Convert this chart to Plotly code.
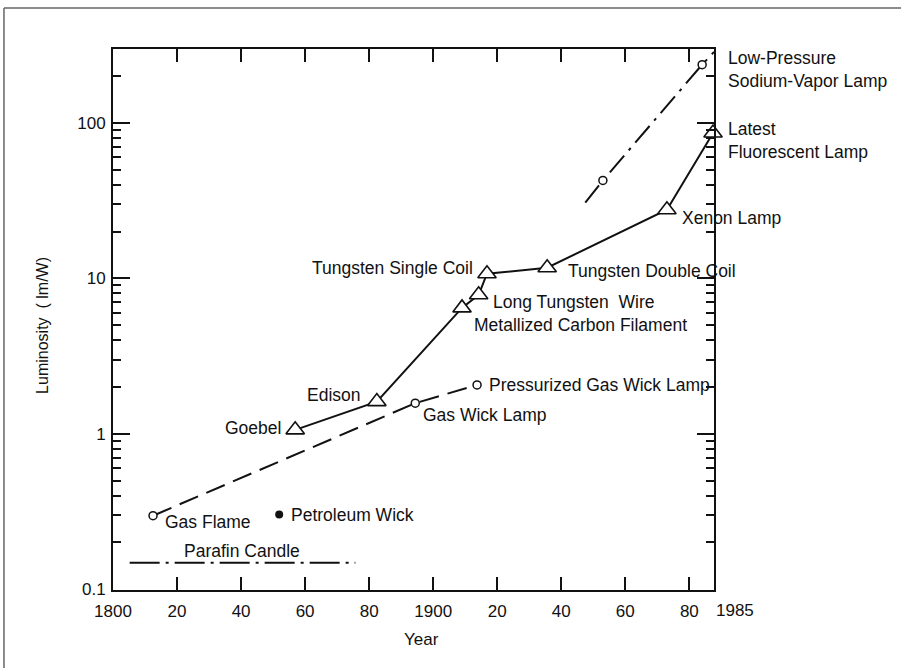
import plotly.graph_objects as go

# ---- data ----
# solid line: incandescent / discharge lamps (open triangles)
lamp_names = ["Goebel", "Edison", "Metallized Carbon Filament", "Long Tungsten Wire",
              "Tungsten Single Coil", "Tungsten Double Coil", "Xenon Lamp", "Latest Fluorescent Lamp"]
lamp_years = [1856.9, 1882.4, 1909.0, 1914.2, 1916.8, 1935.6, 1973.0, 1987.4]
lamp_lum = [1.06, 1.61, 6.45, 7.83, 10.7, 11.7, 27.6, 86.0]

# dashed line: gas lighting (open circles)
gas_names = ["Gas Flame", "Gas Wick Lamp", "Pressurized Gas Wick Lamp"]
gas_years = [1812.5, 1894.4, 1913.7]
gas_lum = [0.297, 1.573, 2.062]

# dash-dot line: low-pressure sodium-vapor lamp
sodium_line_years = [1947.5, 1953.0, 1984.0, 1987.7]
sodium_line_lum = [30.7, 42.6, 236.8, 286.0]
sodium_pt_years = [1953.0, 1984.0]
sodium_pt_lum = [42.6, 236.8]

# single point: petroleum wick
petro_years = [1851.9]
petro_lum = [0.303]

# horizontal dash-dot: parafin candle
candle_years = [1805.2, 1875.7]
candle_lum = [0.148, 0.148]

# axis ticks
x_tickvals = [1800, 1820, 1840, 1860, 1880, 1900, 1920, 1940, 1960, 1980]
x_ticktext = ["1800", "20", "40", "60", "80", "1900", "20", "40", "60", "80"]
y_tickvals = [0.1, 1, 10, 100]
y_ticktext = ["0.1", "1", "10", "100"]
y_minor = [0.2, 0.3, 0.4, 0.5, 0.6, 0.7, 0.8, 0.9,
           2, 3, 4, 5, 6, 7, 8, 9,
           20, 30, 40, 50, 60, 70, 80, 90,
           200, 300]

INK = "#111111"
FONT = "Liberation Sans, Arial, Helvetica, sans-serif"
LBL = 17.5

fig = go.Figure()

fig.add_trace(go.Scatter(
    x=candle_years, y=candle_lum, mode="lines",
    line=dict(color=INK, width=2, dash="30px,6px,3px,6px"), showlegend=False))

fig.add_trace(go.Scatter(
    x=gas_years, y=gas_lum, mode="lines+markers",
    line=dict(color=INK, width=2, dash="20px,9px"),
    marker=dict(symbol="circle", size=8, color="white", line=dict(color=INK, width=1.5)),
    cliponaxis=False, showlegend=False))

fig.add_trace(go.Scatter(
    x=sodium_line_years, y=sodium_line_lum, mode="lines",
    line=dict(color=INK, width=2, dash="22px,7px,3px,7px"), showlegend=False))
fig.add_trace(go.Scatter(
    x=sodium_pt_years, y=sodium_pt_lum, mode="markers",
    marker=dict(symbol="circle", size=8, color="white", line=dict(color=INK, width=1.5)),
    cliponaxis=False, showlegend=False))

fig.add_trace(go.Scatter(
    x=lamp_years, y=lamp_lum, mode="lines+markers",
    line=dict(color=INK, width=2),
    marker=dict(symbol="triangle-up", size=16, color="white", line=dict(color=INK, width=1.6)),
    cliponaxis=False, showlegend=False))

fig.add_trace(go.Scatter(
    x=petro_years, y=petro_lum, mode="markers",
    marker=dict(symbol="circle", size=8, color=INK),
    cliponaxis=False, showlegend=False))

# ---- text labels inside the plot (year, log10 lum, text, anchor) ----
labels = [
    (1977.4, 1.3893, "Xenon Lamp", "left"),
    (1941.8, 1.0482, "Tungsten Double Coil", "left"),
    (1912.6, 1.0655, "Tungsten Single Coil", "right"),
    (1918.4, 0.8505, "Long Tungsten  Wire", "left"),
    (1912.4, 0.7005, "Metallized Carbon Filament", "left"),
    (1917.0, 0.3143, "Pressurized Gas Wick Lamp", "left"),
    (1896.5, 0.1211, "Gas Wick Lamp", "left"),
    (1877.8, 0.2499, "Edison", "right"),
    (1852.8, 0.0394, "Goebel", "right"),
    (1815.8, -0.5696, "Gas Flame", "left"),
    (1855.2, -0.5226, "Petroleum Wick", "left"),
    (1821.9, -0.7543, "Parafin Candle", "left"),
]
annotations = []
for x, y, t, anc in labels:
    annotations.append(dict(x=x, y=y, xref="x", yref="y", text=t, showarrow=False,
                            xanchor=anc, yanchor="middle", align="left",
                            font=dict(size=LBL, color=INK, family=FONT), borderpad=0))

# labels outside the right axis (paper coordinates)
for x, y, t in [(1.021, 0.963, "Low-Pressure<br>Sodium-Vapor Lamp"),
                (1.021, 0.831, "Latest<br>Fluorescent Lamp")]:
    annotations.append(dict(x=x, y=y, xref="paper", yref="paper", text=t, showarrow=False,
                            xanchor="left", yanchor="middle", align="left",
                            font=dict(size=LBL, color=INK, family=FONT), borderpad=0))

annotations.append(dict(x=1.0, y=-0.037, xref="paper", yref="paper", text="1985",
                        showarrow=False, xanchor="left", yanchor="middle", xshift=0,
                        font=dict(size=17, color=INK, family=FONT)))
annotations.append(dict(x=0.5125, y=-0.0906, xref="paper", yref="paper", text="Year",
                        showarrow=False, xanchor="center", yanchor="middle",
                        font=dict(size=17, color=INK, family=FONT)))
annotations.append(dict(x=-0.1165, y=0.49, xref="paper", yref="paper",
                        text="Luminosity  ( lm/W)", textangle=-90,
                        showarrow=False, xanchor="center", yanchor="middle",
                        font=dict(size=16, color=INK, family=FONT)))

fig.update_layout(
    width=901, height=668,
    margin=dict(l=113, r=187, t=49, b=78),
    paper_bgcolor="white", plot_bgcolor="white",
    font=dict(family=FONT, size=17, color=INK),
    annotations=annotations,
    shapes=[
        dict(type="line", xref="paper", yref="paper", x0=-0.1814, x1=1.5, y0=1.0758, y1=1.0758,
             line=dict(color="#666666", width=1.5)),
        dict(type="line", xref="paper", yref="paper", x0=-0.1814, x1=-0.1814, y0=1.0758, y1=-0.3,
             line=dict(color="#666666", width=1.5)),
    ],
)

fig.update_xaxes(
    range=[1800, 1987.7], tickmode="array", tickvals=x_tickvals, ticktext=x_ticktext,
    ticks="inside", ticklen=13, tickwidth=1.5, tickcolor=INK,
    showline=True, linewidth=2, linecolor=INK, mirror="allticks",
    showgrid=False, zeroline=False, ticklabelstandoff=5,
    tickfont=dict(size=17, color=INK, family=FONT))

fig.update_yaxes(
    type="log", range=[-1.005, 2.475], tickmode="array", tickvals=y_tickvals, ticktext=y_ticktext,
    ticks="inside", ticklen=17, tickwidth=1.5, tickcolor=INK,
    minor=dict(tickmode="array", tickvals=y_minor, ticks="inside", ticklen=8,
               tickwidth=1.5, tickcolor=INK, showgrid=False),
    showline=True, linewidth=2, linecolor=INK, mirror="allticks",
    showgrid=False, zeroline=False, ticklabelstandoff=2,
    tickfont=dict(size=17, color=INK, family=FONT))

fig.write_html("out.html", config={"displayModeBar": False},
               post_script="document.body.style.margin='0';document.body.style.overflow='hidden';")
